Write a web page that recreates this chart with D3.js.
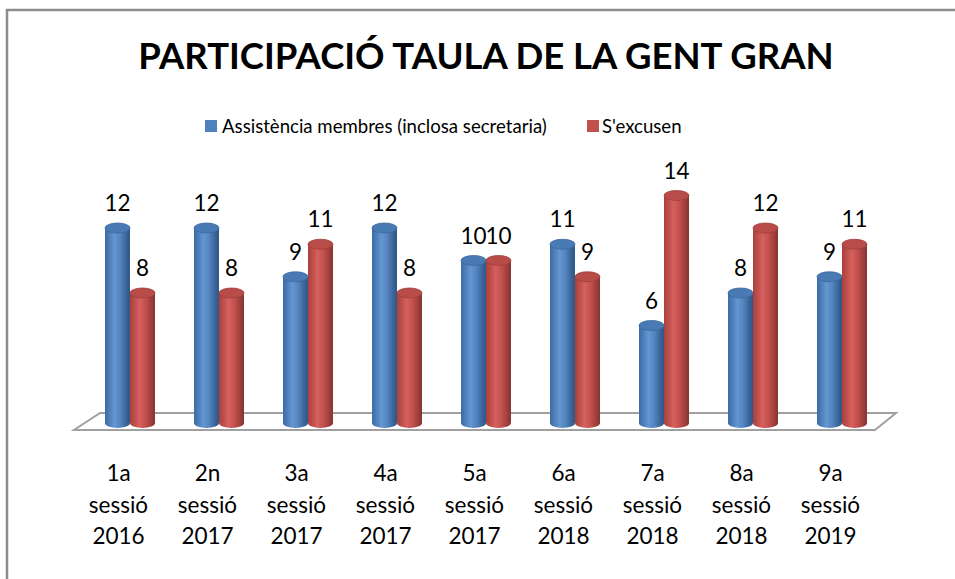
<!DOCTYPE html>
<html>
<head>
<meta charset="utf-8">
<script src="https://cdn.jsdelivr.net/npm/d3@7/dist/d3.min.js"></script>
<style>
html,body{margin:0;padding:0;background:#fff;}
svg{display:block;}
text{font-family:Lato,"Open Sans",sans-serif;fill:#000;}
</style>
</head>
<body>
<svg id="chart" width="955" height="579"></svg>
<script>
const title = "PARTICIPACIÓ TAULA DE LA GENT GRAN";
const categories = [
  ["1a","sessió","2016"],["2n","sessió","2017"],["3a","sessió","2017"],
  ["4a","sessió","2017"],["5a","sessió","2017"],["6a","sessió","2018"],
  ["7a","sessió","2018"],["8a","sessió","2018"],["9a","sessió","2019"]
];
const seriesNames = ["Assistència membres (inclosa secretaria)", "S'excusen"];
const assistencia = [12, 12, 9, 12, 10, 11, 6, 8, 9];
const excusen = [8, 8, 11, 8, 10, 9, 14, 12, 11];
const seriesValues = [assistencia, excusen];
const colors = ["#4F81BD", "#C0504D"];

const W = 955, H = 579;
const svg = d3.select("#chart");

// outer chart border (top and left visible)
svg.append("path").attr("d", `M7,${H} L7,10 L${W},10`)
  .attr("fill","none").attr("stroke","#8c8c8c").attr("stroke-width",2.5);

// gradients
const defs = svg.append("defs");
const shades = [
  ["#3c6aa3","#4f81bd","#6496d2","#5585c2","#3a6598","#2f5583"],
  ["#a9403d","#c0504d","#d4615e","#c5524f","#9e3f3c","#86332f"]
];
shades.forEach((s,i)=>{
  const g = defs.append("linearGradient").attr("id","g"+i).attr("x1","0").attr("x2","1").attr("y1","0").attr("y2","0");
  [0,0.2,0.38,0.6,0.85,1].forEach((o,j)=>g.append("stop").attr("offset",o).attr("stop-color",s[j]));
});

// scales (front plane)
const x0 = d3.scaleBand().domain(d3.range(categories.length)).range([74, 875]).paddingInner(0).paddingOuter(0);
const y = d3.scaleLinear().domain([0, 16]).range([423, 423 - 16*16.25]);
const depthY = -17;
const barW = 25, ry = 5;

// floor
const yFront = 430;
svg.append("path")
  .attr("d", `M74,${yFront} L875,${yFront} L896,${yFront+depthY} L100,${yFront+depthY} Z`)
  .attr("fill","#fff").attr("stroke","#a0a0a0").attr("stroke-width",2);

// bars
const g = svg.append("g");
categories.forEach((c,i)=>{
  const center = x0(i) + x0.bandwidth()/2;
  seriesValues.forEach((vals,s)=>{
    const cx = center - 1 + s*barW;
    const v = vals[i];
    const top = y(v), base = y(0);
    const left = cx - barW/2, right = cx + barW/2;
    g.append("path")
      .attr("d", `M${left},${top} L${left},${base} A${barW/2},${ry} 0 0 0 ${right},${base} L${right},${top} Z`)
      .attr("fill", `url(#g${s})`);
    g.append("ellipse").attr("cx",cx).attr("cy",top).attr("rx",barW/2).attr("ry",ry)
      .attr("fill", s===0 ? "#4a7ab3" : "#b84c49")
      .attr("stroke", s===0 ? "#3c679c" : "#9e3f3c").attr("stroke-width",0.8);
    svg.append("text").attr("x", cx).attr("y", top - 17)
      .attr("text-anchor","middle").attr("font-size",22.5).text(v);
  });
});

// category labels
categories.forEach((c,i)=>{
  const cx = x0(i) + x0.bandwidth()/2;
  const t = svg.append("text").attr("text-anchor","middle").attr("font-size",22.5);
  c.forEach((line,k)=>{
    t.append("tspan").attr("x",cx).attr("y",481 + k*31.5).text(line);
  });
});

// title
svg.append("text").attr("x",486).attr("y",69).attr("text-anchor","middle")
  .attr("font-size",36.5).attr("font-weight","bold").text(title);

// legend
const legend = [{x:205, tx:222}, {x:587, tx:602}];
seriesNames.forEach((n,i)=>{
  svg.append("rect").attr("x",legend[i].x).attr("y",120).attr("width",12).attr("height",12).attr("fill",colors[i]);
  svg.append("text").attr("x",legend[i].tx).attr("y",133).attr("font-size",18.6).text(n);
});
</script>
</body>
</html>
